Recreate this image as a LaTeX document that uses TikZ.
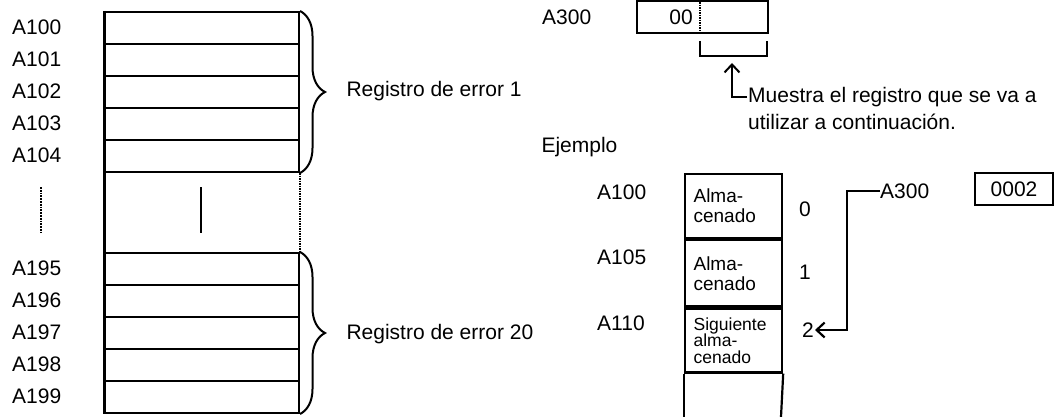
\documentclass[tikz,border=0pt]{standalone}
\usepackage{fontspec}
\setmainfont{Liberation Sans}
\usetikzlibrary{arrows.meta,decorations.pathreplacing}

\begin{document}
\begin{tikzpicture}[x=1pt,y=-1pt,>={Straight Barb[length=8pt,width=15pt]},
  every node/.style={font=\fontsize{21}{25}\selectfont},
  regrow/.style={draw,line width=2pt,minimum width=194pt,minimum height=32pt,inner sep=0pt,anchor=north west},
  addr/.style={anchor=west,inner sep=0pt},
  ejcell/.style={draw,line width=2.2pt,minimum width=97pt,inner xsep=8.5pt,text width=80pt,align=left,anchor=north west,font=\fontsize{19}{20}\selectfont},
  regbrace/.style={decorate,decoration={brace,amplitude=25pt},line width=2pt}]
  \useasboundingbox (0,0) rectangle (1055,417);

  % tabla de registros de error
  \foreach \n/\y in {100/11,101/43,102/75,103/107,104/139,195/252,196/284,197/316,198/348,199/380}{
    \node[regrow] (r\n) at (104,\y) {};
    \node[addr] (l\n) at (12,\y+16) {A\n};
  }
  \draw[line width=3pt] (r100.north west) -- (r199.south west);
  \draw[densely dotted,line width=1.5pt] (r104.south east) -- (r195.north east);
  \draw[line width=1.5pt] (201,187) -- (201,233);
  \draw[densely dotted,line width=1.8pt] (41,187) -- (41,233);
  \draw[regbrace] (r100.north east) -- (r104.south east);
  \draw[regbrace] (r195.north east) -- (r199.south east);
  \node[anchor=west] (reg1) at (343,91) {Registro de error 1};
  \node[anchor=west] (reg20) at (343,334) {Registro de error 20};

  % A300
  \node[addr] (lA300) at (542,17) {A300};
  \node[draw,line width=2pt,minimum width=131pt,minimum height=32pt,inner sep=0pt,anchor=north west] (a300) at (636,0) {};
  \draw[densely dotted,line width=1.5pt] (700,0) -- (700,32);
  \node[anchor=east,inner sep=0pt] (v00) at (693,17) {00};
  \draw[line width=2.2pt] (700,41) -- (700,56) -- (767,56) -- (767,41);
  \coordinate (selbr) at (732,63);
  \node[anchor=west,inner sep=1pt] (muestra) at (747,97) {Muestra el registro que se va a};
  \node[anchor=west,inner sep=1pt] (muestrab) at (747,122) {utilizar a continuación.};
  \draw[->,line width=2pt] (muestra.west) -| (selbr);

  % ejemplo
  \node[anchor=west] (ejemplo) at (538,147) {Ejemplo};
  \node[ejcell,minimum height=64pt] (c0) at (684,173) {Alma-\\cenado};
  \node[ejcell,minimum height=66pt] (c1) at (c0.south west) {Alma-\\cenado};
  \node[ejcell,minimum height=64pt,font=\fontsize{17.5}{16.5}\selectfont] (c2) at (c1.south west) {Siguiente\\alma-\\cenado};
  \draw[line width=2.2pt] (c2.south west) -- (684,417);
  \draw[line width=2.2pt] (c2.south east) -- (781,417);
  \node[addr] (e100) at (597,192) {A100};
  \node[addr] (e105) at (597,257) {A105};
  \node[addr] (e110) at (597,323) {A110};
  \node[inner sep=1pt] (n0) at (805,209) {0};
  \node[inner sep=1pt] (n1) at (805,272) {1};
  \node[inner sep=1pt] (n2) at (808,330) {2};
  \node[addr] (ptr) at (880,191) {A300};
  \node[draw,line width=2pt,minimum width=78pt,minimum height=32pt] (val) at (1014,189) {0002};
  \coordinate (bend) at (847,191);
  \draw[->,line width=2.2pt] (ptr.west) -- (bend) |- (n2.east);
\end{tikzpicture}
\end{document}
